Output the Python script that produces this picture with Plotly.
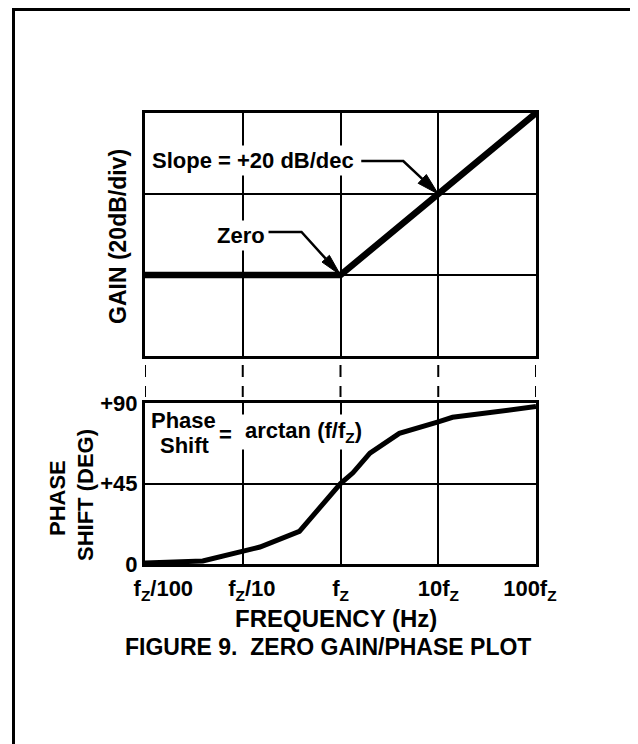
import plotly.graph_objects as go

# page body adds an 8px margin: figure is drawn 8px in from the window corner
OFF = 8
W, H = 638 - OFF, 744 - OFF

# ---------------- data ----------------
decade_ticks = [0.01, 0.1, 1, 10, 100]
NB = "\u00a0"
decade_labels = [NB * 6 + "f<sub>Z</sub>/100", NB * 3 + "f<sub>Z</sub>/10",
                 "f<sub>Z</sub>", "10f<sub>Z</sub>", "100f<sub>Z</sub>" + NB * 2]

gain_freq = [0.01, 1, 100]          # relative to fz
gain_div = [1, 1, 3]                # gain in divisions (20 dB/div)
gain_ticks = [0, 1, 2, 3]

phase_freq = [0.01, 0.039, 0.15, 0.38, 1.0, 1.34, 2.0, 4.0, 10, 14, 100]
phase_deg = [0.5, 1.7, 9.5, 18.2, 45, 51, 62, 73, 79.5, 82, 88]
phase_ticks = [0, 45, 90]
phase_tick_labels = ["0", "+45", "+90"]

FONT = "Liberation Sans, Arial, Helvetica, sans-serif"


def px(x):
    return (x - OFF) / W


def py(y):
    return 1 - (y - OFF) / H


fig = go.Figure()

# gain asymptote
fig.add_trace(go.Scatter(x=gain_freq, y=gain_div, mode="lines",
                         line=dict(color="black", width=6.5),
                         xaxis="x", yaxis="y", hoverinfo="skip"))
# phase curve
fig.add_trace(go.Scatter(x=phase_freq, y=phase_deg, mode="lines",
                         line=dict(color="black", width=5),
                         xaxis="x2", yaxis="y2", hoverinfo="skip"))
# dashed connectors between the two plots
cx, cy = [], []
for f in decade_ticks:
    cx += [f, f, None]
    cy += [38, 6, None]
fig.add_trace(go.Scatter(x=cx, y=cy, mode="lines",
                         line=dict(color="black", width=2, dash="12px,9px"),
                         xaxis="x3", yaxis="y3", hoverinfo="skip"))

xdom = [px(145), px(536)]
common_x = dict(type="log", range=[-2, 2], domain=xdom, showgrid=True,
                gridcolor="black", gridwidth=2, tickvals=decade_ticks,
                showline=True, linecolor="black", linewidth=3, mirror=True,
                ticks="", zeroline=False, automargin=False)
common_y = dict(showgrid=True, gridcolor="black", gridwidth=2,
                showline=True, linecolor="black", linewidth=3, mirror=True,
                ticks="", zeroline=False, automargin=False)

fig.update_layout(
    width=W, height=H,
    margin=dict(l=0, r=0, t=0, b=0, pad=0, autoexpand=False),
    paper_bgcolor="white", plot_bgcolor="white",
    showlegend=False,
    font=dict(family=FONT, size=22, color="black", weight="bold"),
    xaxis=dict(**common_x, anchor="y", showticklabels=False),
    yaxis=dict(**common_y, domain=[py(356), py(113)], range=[0, 3],
               tickvals=gain_ticks, showticklabels=False, anchor="x"),
    xaxis2=dict(**common_x, anchor="y2", ticktext=decade_labels,
                tickfont=dict(size=22), ticklabelstandoff=3),
    yaxis2=dict(**common_y, domain=[py(564), py(403)], range=[0, 90],
                tickvals=phase_ticks, ticktext=phase_tick_labels,
                tickfont=dict(size=22), anchor="x2"),
    xaxis3=dict(type="log", range=[-2, 2], domain=xdom, visible=False,
                anchor="y3"),
    yaxis3=dict(range=[0, 47], domain=[py(403), py(356)], visible=False,
                anchor="x3"),
)

ann = []


def text(t, x, y, size=22, **kw):
    d = dict(text=t, x=px(x), y=py(y), xref="paper", yref="paper",
             xanchor="center", yanchor="middle",
             showarrow=False, font=dict(family=FONT, size=size, color="black",
                                        weight="bold"))
    d.update(kw)
    ann.append(d)


text("GAIN (20dB/div)", 118, 237, size=23, textangle=-90)
text("PHASE", 57, 498, textangle=-90)
text("SHIFT (DEG)", 85, 495, textangle=-90)
text("FREQUENCY (Hz)", 336, 618, size=24)
text("FIGURE 9.\u00a0\u00a0ZERO GAIN/PHASE PLOT", 328, 647, size=23)
text("Slope = +20 dB/dec", 149, 161, xanchor="left", bgcolor="white", borderpad=2)
text("Zero", 214, 235, xanchor="left", bgcolor="white", borderpad=2)
text("Phase", 183, 420)
text("Shift", 185, 445)
text("=", 225, 434)
text("arctan (f/f<sub>Z</sub>)", 241, 432, xanchor="left", bgcolor="white",
     borderpad=3)
fig.update_layout(annotations=ann)

# outer frame
shapes = [
    dict(type="line", xref="paper", yref="paper", x0=px(13.5), x1=px(13.5),
         y0=py(8.5), y1=py(760), line=dict(color="black", width=3)),
    dict(type="line", xref="paper", yref="paper", x0=px(12), x1=px(637),
         y0=py(9.5), y1=py(9.5), line=dict(color="black", width=3)),
    dict(type="line", xref="paper", yref="paper", x0=px(636.5), x1=px(636.5),
         y0=py(8), y1=py(760), line=dict(color="#888888", width=1)),
]


def arrow(xa, ya, xref, yref, lead, elbow, base, c1, c2):
    shapes.append(dict(type="path", xref=xref, yref=yref,
                       xsizemode="pixel", ysizemode="pixel",
                       xanchor=xa, yanchor=ya,
                       path=f"M{lead[0]},{lead[1]} L{elbow[0]},{elbow[1]} L{base[0]},{base[1]}",
                       line=dict(color="black", width=2.5)))
    shapes.append(dict(type="path", xref=xref, yref=yref,
                       xsizemode="pixel", ysizemode="pixel",
                       xanchor=xa, yanchor=ya,
                       path=f"M0,0 L{c1[0]},{c1[1]} L{c2[0]},{c2[1]} Z",
                       fillcolor="black", line=dict(color="black", width=1)))


# slope arrow -> points at (10 fz, 2 div)
arrow(10, 2, "x", "y", (-77, 33), (-35, 33), (-16, 15.1), (-11.9, 19.5), (-20.1, 10.7))
# zero arrow -> points at (fz, 1 div)
arrow(1, 1, "x", "y", (-72, 43), (-39, 43), (-14.8, 16.3), (-11.1, 19.7), (-18.5, 12.9))

fig.update_layout(shapes=shapes)

fig.write_html("out.html")
